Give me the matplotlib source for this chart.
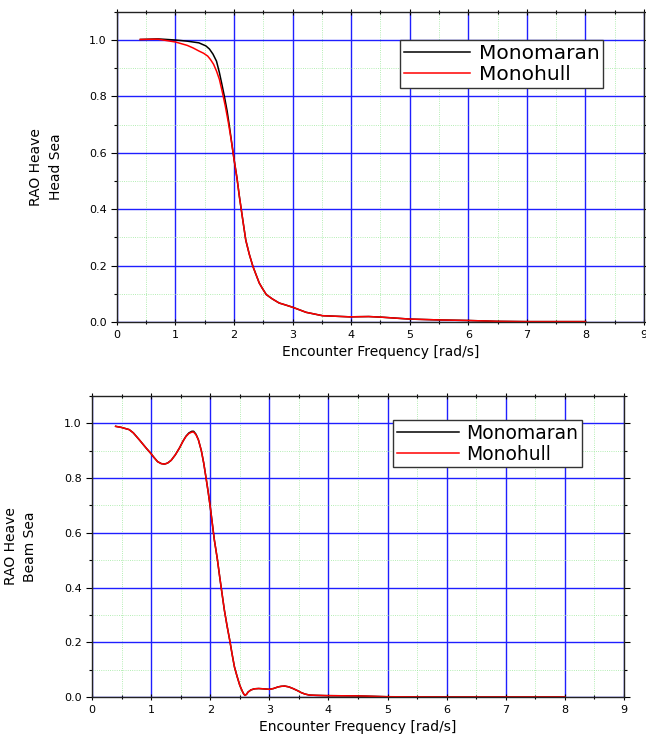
import matplotlib
matplotlib.use("Agg")
import matplotlib.pyplot as plt
from matplotlib.ticker import MultipleLocator, FormatStrFormatter

# Head sea data
head_x_mono = [0.4, 0.7, 1.0, 1.2, 1.4, 1.52, 1.58, 1.64, 1.70, 1.75, 1.79, 1.835, 1.88, 1.92, 1.96, 2.0,
               2.05, 2.09, 2.15, 2.2, 2.26, 2.32, 2.38, 2.43, 2.48, 2.55, 2.65, 2.77, 2.88, 3.0, 3.23,
               3.51, 3.97, 4.3, 4.5, 5.0, 5.5, 6.0, 6.5, 7.0, 8.0]
head_y_mono = [1.002, 1.004, 1.0, 0.996, 0.99, 0.979, 0.968, 0.95, 0.925, 0.884, 0.845, 0.80, 0.75, 0.695,
               0.635, 0.576, 0.51, 0.446, 0.36, 0.29, 0.24, 0.198, 0.165, 0.138, 0.12, 0.097, 0.082,
               0.067, 0.06, 0.052, 0.034, 0.022, 0.018, 0.019, 0.017, 0.01, 0.007, 0.005, 0.002, 0.001,
               0.001]
head_x_hull = [0.4, 0.7, 1.0, 1.2, 1.3, 1.4, 1.48, 1.55, 1.6, 1.65, 1.7, 1.75, 1.8, 1.85, 1.9, 1.95, 2.0,
               2.05, 2.09, 2.15, 2.2, 2.26, 2.32, 2.38, 2.43, 2.48, 2.55, 2.65, 2.77, 2.88, 3.0, 3.23,
               3.51, 3.97, 4.3, 4.5, 5.0, 5.5, 6.0, 6.5, 7.0, 8.0]
head_y_hull = [1.002, 1.003, 0.993, 0.981, 0.972, 0.961, 0.953, 0.943, 0.93, 0.914, 0.89, 0.86, 0.815,
               0.766, 0.71, 0.647, 0.576, 0.51, 0.446, 0.36, 0.29, 0.24, 0.198, 0.165, 0.138, 0.12,
               0.097, 0.082, 0.067, 0.06, 0.052, 0.034, 0.022, 0.018, 0.019, 0.017, 0.01, 0.007, 0.005,
               0.002, 0.001, 0.001]

# Beam sea data
beam_x = [0.4, 0.5, 0.63, 0.7, 0.8, 0.915, 1.0, 1.05, 1.11, 1.17, 1.226, 1.28, 1.34, 1.41, 1.48, 1.54,
          1.59, 1.64, 1.69, 1.72, 1.76, 1.8, 1.85, 1.89, 1.93, 1.965, 2.0, 2.035, 2.07, 2.12, 2.16, 2.2,
          2.24, 2.285, 2.33, 2.37, 2.41, 2.455, 2.5, 2.525, 2.55, 2.57, 2.59, 2.615, 2.64, 2.69, 2.75,
          2.82, 2.89, 2.95, 3.0, 3.07, 3.15, 3.2, 3.26, 3.33, 3.4, 3.47, 3.54, 3.6, 3.68, 3.8, 3.97,
          4.5, 5.0, 6.0, 7.0, 8.0]
beam_y_mono = [0.989, 0.985, 0.977, 0.965, 0.94, 0.91, 0.889, 0.875, 0.86, 0.853, 0.851, 0.855, 0.865,
               0.885, 0.91, 0.935, 0.953, 0.965, 0.971, 0.971, 0.96, 0.94, 0.90, 0.855, 0.80, 0.75,
               0.696, 0.635, 0.574, 0.505, 0.44, 0.378, 0.317, 0.26, 0.208, 0.157, 0.11, 0.075, 0.043,
               0.03, 0.018, 0.01, 0.006, 0.01, 0.018, 0.026, 0.03, 0.031, 0.03, 0.029, 0.028, 0.031,
               0.037, 0.039, 0.04, 0.037, 0.031, 0.024, 0.016, 0.011, 0.007, 0.006, 0.005, 0.004,
               0.001, 0.0, 0.0, 0.0]
beam_y_hull = [0.989, 0.985, 0.977, 0.965, 0.94, 0.91, 0.889, 0.875, 0.86, 0.853, 0.851, 0.855, 0.865,
               0.885, 0.91, 0.935, 0.952, 0.963, 0.968, 0.968, 0.958, 0.94, 0.90, 0.855, 0.80, 0.75,
               0.696, 0.635, 0.574, 0.505, 0.44, 0.378, 0.317, 0.26, 0.208, 0.157, 0.11, 0.075, 0.043,
               0.03, 0.018, 0.01, 0.006, 0.01, 0.018, 0.026, 0.03, 0.031, 0.03, 0.029, 0.028, 0.031,
               0.037, 0.039, 0.04, 0.037, 0.031, 0.024, 0.016, 0.011, 0.007, 0.006, 0.005, 0.004,
               0.001, 0.0, 0.0, 0.0]

series_labels = ["Monomaran", "Monohull"]
xlabel = "Encounter Frequency [rad/s]"

fig = plt.figure(figsize=(6.46, 7.40), dpi=100)
ax1 = fig.add_axes([0.181, 0.565, 0.816, 0.419])
ax2 = fig.add_axes([0.1424, 0.0581, 0.8235, 0.4068])


def style(ax, ylabel, label_x):
    ax.set_xlim(0, 9)
    ax.set_ylim(0, 1.1)
    ax.set_xticks(range(0, 10))
    ax.set_yticks([0, 0.2, 0.4, 0.6, 0.8, 1.0])
    ax.xaxis.set_minor_locator(MultipleLocator(0.5))
    ax.yaxis.set_minor_locator(MultipleLocator(0.1))
    ax.grid(which="major", color="#1f1fff", linewidth=1.0, linestyle="-")
    ax.grid(which="minor", color="#9be89b", linewidth=0.6, linestyle=":")
    ax.set_axisbelow(True)
    ax.tick_params(which="both", top=True, right=True, labelsize=8, width=0.8)
    ax.tick_params(which="major", length=4)
    ax.tick_params(which="minor", length=2.5)
    ax.tick_params(axis="x", which="both", direction="inout")
    ax.tick_params(axis="y", which="both", direction="out")
    ax.yaxis.set_major_formatter(FormatStrFormatter("%.1f"))
    for s in ax.spines.values():
        s.set_linewidth(1.0)
        s.set_color("#222222")
    ax.set_xlabel(xlabel, fontsize=10, labelpad=4)
    ax.set_ylabel(ylabel, fontsize=10, linespacing=1.5)
    ax.yaxis.set_label_coords(label_x, 0.5)


ax1.plot(head_x_mono, head_y_mono, color="black", lw=1.1, label=series_labels[0])
ax1.plot(head_x_hull, head_y_hull, color="red", lw=1.1, label=series_labels[1])
style(ax1, "RAO Heave\nHead Sea", -0.1025)
leg1 = ax1.legend(loc="upper left", bbox_to_anchor=(0.537, 0.91), fontsize=14.5, frameon=True,
                  fancybox=False, handlelength=3.3, borderpad=0.2, labelspacing=0.1,
                  handletextpad=0.4, borderaxespad=0)
leg1.get_frame().set_edgecolor("#333333")
leg1.get_frame().set_linewidth(1.0)
leg1.get_frame().set_alpha(1)

ax2.plot(beam_x, beam_y_mono, color="black", lw=1.1, label=series_labels[0])
ax2.plot(beam_x, beam_y_hull, color="red", lw=1.1, label=series_labels[1])
style(ax2, "RAO Heave\nBeam Sea", -0.103)
leg2 = ax2.legend(loc="upper left", bbox_to_anchor=(0.566, 0.92), fontsize=13.5, frameon=True,
                  fancybox=False, handlelength=3.3, borderpad=0.2, labelspacing=0.1,
                  handletextpad=0.4, borderaxespad=0)
leg2.get_frame().set_edgecolor("#333333")
leg2.get_frame().set_linewidth(1.0)
leg2.get_frame().set_alpha(1)

fig.savefig("out.png", dpi=100)
